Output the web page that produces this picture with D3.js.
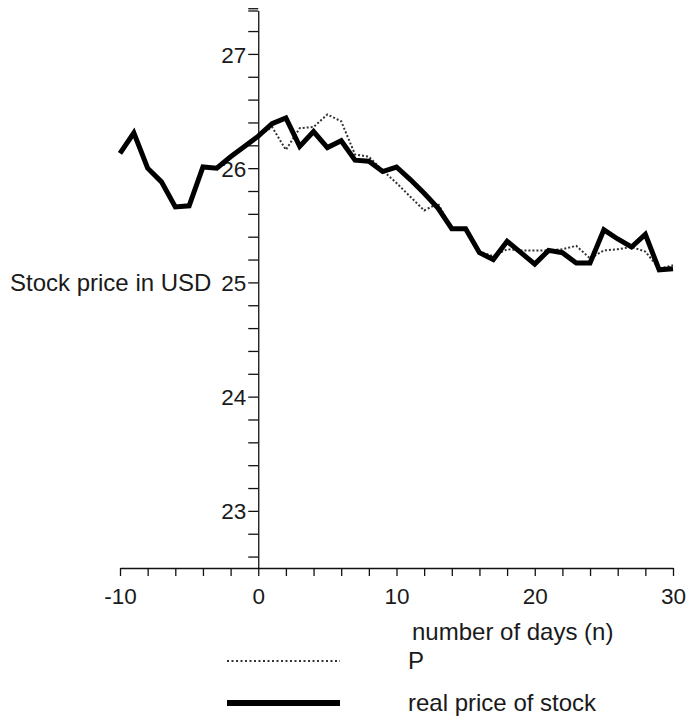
<!DOCTYPE html>
<html>
<head>
<meta charset="utf-8">
<script src="https://cdn.jsdelivr.net/npm/d3@7"></script>
<style>
  body { margin: 0; background: #fff; }
  text { font-family: "Liberation Sans", Arial, sans-serif; fill: #1a1a1a; }
  .axis path, .axis line { stroke: #111; stroke-width: 1.3; }
  .axis text { font-size: 22.5px; font-family: "Liberation Sans", Arial, sans-serif; fill: #1a1a1a; }
</style>
</head>
<body>
<div id="chart-area"></div>
<script>
/*
*   stock price vs predicted P
*/

// days n
var days = d3.range(-10, 31);

// real price of stock, n = -10 .. 30
var realPrice = [26.13, 26.31, 26.00, 25.88, 25.66, 25.67, 26.01, 26.00, 26.10, 26.19,
                 26.28, 26.39, 26.44, 26.19, 26.32, 26.18, 26.24, 26.07, 26.06, 25.97,
                 26.01, 25.90, 25.78, 25.65, 25.47, 25.47, 25.26, 25.20, 25.36, 25.26,
                 25.16, 25.28, 25.26, 25.17, 25.17, 25.46, 25.38, 25.31, 25.42, 25.11,
                 25.12];

// predicted P, n = 0 .. 30
var predP = [26.28, 26.36, 26.16, 26.35, 26.36, 26.47, 26.41, 26.12, 26.10, 25.98,
             25.87, 25.75, 25.63, 25.69, 25.47, 25.47, 25.27, 25.23, 25.29, 25.28,
             25.28, 25.28, 25.29, 25.32, 25.21, 25.28, 25.29, 25.31, 25.27, 25.12,
             25.15];

var xTickLabels = [-10, 0, 10, 20, 30];
var yTickLabels = [23, 24, 25, 26, 27];

var legendNames = ["P", "real price of stock"];


LineChart = function(_parentElement){
    var vis = this;
    this.parentElement = _parentElement;
    this.initVis();
};

LineChart.prototype.initVis = function(){
    var vis = this;

    vis.width = 689;
    vis.height = 721;

    vis.svg = d3.select(vis.parentElement)
        .append("svg")
        .attr("width", vis.width)
        .attr("height", vis.height);

    vis.svg.append("rect")
        .attr("width", vis.width)
        .attr("height", vis.height)
        .attr("fill", "#fff");

    vis.x = d3.scaleLinear().domain([-10, 30]).range([120, 673]);
    vis.y = d3.scaleLinear().domain([22.5, 27.38]).range([568, 10.5]);

    // x axis along the bottom, minor ticks every 2 days
    vis.xAxisCall = d3.axisBottom(vis.x)
        .tickValues(d3.range(-10, 31, 2))
        .tickSize(8)
        .tickSizeOuter(0)
        .tickFormat(function(d){ return xTickLabels.indexOf(d) >= 0 ? d : ""; });

    vis.xAxis = vis.svg.append("g")
        .attr("class", "x axis")
        .attr("transform", "translate(0," + vis.y(22.5) + ")")
        .call(vis.xAxisCall);
    vis.xAxis.selectAll("text").attr("dy", "1.12em");

    // y axis crossing at n = 0, minor ticks every 0.2
    var yTicks = d3.range(0, 25).map(function(i){ return Math.round((22.6 + i * 0.2) * 10) / 10; });
    yTicks.push(27.38);

    vis.yAxisCall = d3.axisLeft(vis.y)
        .tickValues(yTicks)
        .tickSize(10)
        .tickSizeOuter(0)
        .tickFormat(function(d){ return yTickLabels.indexOf(d) >= 0 ? d : ""; });

    vis.yAxis = vis.svg.append("g")
        .attr("class", "y axis")
        .attr("transform", "translate(" + vis.x(0) + ",0)")
        .call(vis.yAxisCall);
    vis.yAxis.selectAll("text").attr("x", -12).attr("dy", "0.36em");

    // axis titles (y title sits on the same row as the 25 label)
    vis.svg.append("text")
        .attr("x", 10)
        .attr("y", vis.y(25))
        .attr("dy", "0.36em")
        .attr("font-size", "24px")
        .text("Stock price in USD");

    vis.svg.append("text")
        .attr("x", 412)
        .attr("y", 640)
        .attr("font-size", "24px")
        .text("number of days (n)");

    vis.updateVis();
};

LineChart.prototype.updateVis = function(){
    var vis = this;

    vis.line = d3.line()
        .x(function(d){ return vis.x(d.n); })
        .y(function(d){ return vis.y(d.v); });

    var realData = days.map(function(n, i){ return { n: n, v: realPrice[i] }; });
    var pData = predP.map(function(v, i){ return { n: i, v: v }; });

    vis.svg.append("path")
        .datum(pData)
        .attr("fill", "none")
        .attr("stroke", "#333")
        .attr("stroke-width", 2)
        .attr("stroke-dasharray", "2,2")
        .attr("d", vis.line);

    vis.svg.append("path")
        .datum(realData)
        .attr("fill", "none")
        .attr("stroke", "#000")
        .attr("stroke-width", 5)
        .attr("stroke-linejoin", "miter")
        .attr("d", vis.line);

    // legend
    var legend = vis.svg.append("g").attr("class", "legend");
    var rows = [
        { name: legendNames[0], y: 661, width: 2, dash: "2,2.5", color: "#333" },
        { name: legendNames[1], y: 703, width: 6, dash: null, color: "#000" }
    ];

    rows.forEach(function(r){
        legend.append("line")
            .attr("x1", 227).attr("x2", 340)
            .attr("y1", r.y).attr("y2", r.y)
            .attr("stroke", r.color)
            .attr("stroke-width", r.width)
            .attr("stroke-dasharray", r.dash);
        legend.append("text")
            .attr("x", 408)
            .attr("y", r.y + 8)
            .attr("font-size", "24px")
            .text(r.name);
    });
};

new LineChart("#chart-area");
</script>
</body>
</html>
